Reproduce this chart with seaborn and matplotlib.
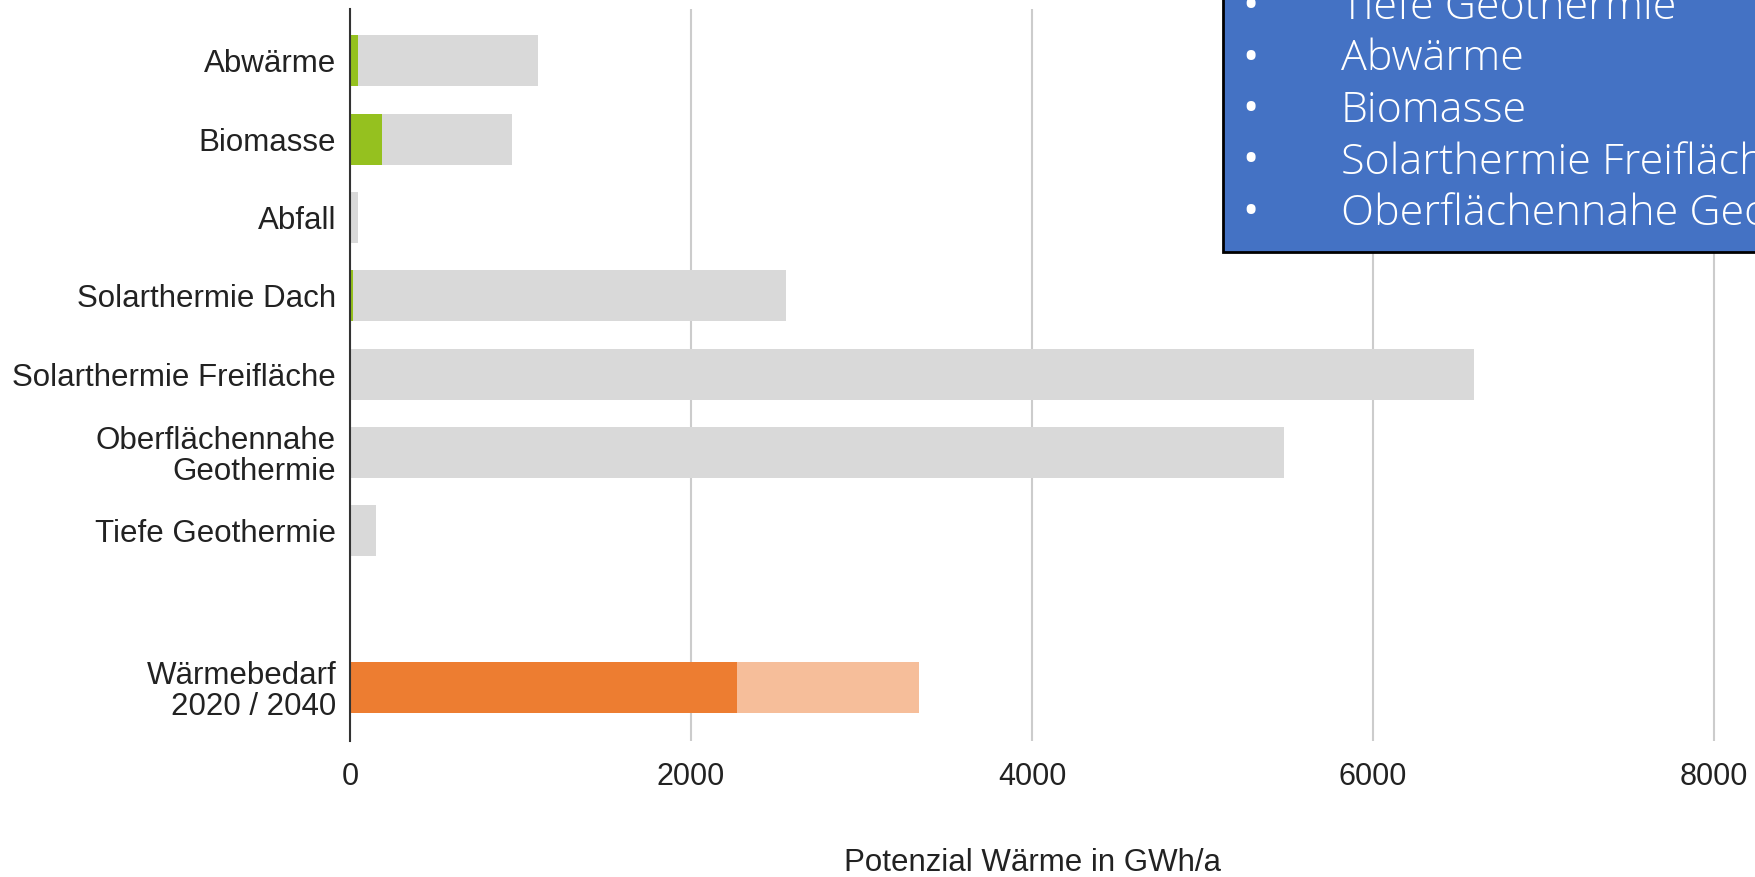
import numpy as np
import pandas as pd
import matplotlib
matplotlib.use('Agg')
import matplotlib.pyplot as plt
import seaborn as sns
from matplotlib.patches import Rectangle

# Daten (GWh/a)
kategorien = ['Abwärme', 'Biomasse', 'Abfall', 'Solarthermie Dach',
              'Solarthermie Freifläche', 'Oberflächennahe\nGeothermie',
              'Tiefe Geothermie']
potenzial = [1100, 950, 45, 2560, 6590, 5480, 155]
genutzt = [45, 190, 0, 20, 0, 0, 0]

bedarf_label = 'Wärmebedarf\n2020 / 2040'
bedarf_2020 = 3340
bedarf_2040 = 2270

x_ticks = [0, 2000, 4000, 6000, 8000]
box_punkte = ['Tiefe Geothermie', 'Abwärme', 'Biomasse',
              'Solarthermie Freifläche', 'Oberflächennahe Geothermie']

# Reihenfolge mit Leerzeile vor dem Wärmebedarf
reihenfolge = kategorien + [' ', bedarf_label]

df_hinten = pd.DataFrame({'kategorie': kategorien + [bedarf_label],
                          'wert': potenzial + [bedarf_2020]})
df_vorn = pd.DataFrame({'kategorie': kategorien + [bedarf_label],
                        'wert': genutzt + [bedarf_2040]})

grau = '#d9d9d9'
gruen = '#95c11f'
pal_hinten = {k: grau for k in kategorien}
pal_hinten[bedarf_label] = '#f6be9a'
pal_vorn = {k: gruen for k in kategorien}
pal_vorn[bedarf_label] = '#ed7d31'

sns.set_style('white')
plt.rcParams['font.family'] = ['Liberation Sans', 'DejaVu Sans']

fig = plt.figure(figsize=(17.55, 8.77), dpi=100)
ax = fig.add_axes([350 / 1755, 1 - 741 / 877, 1 - 350 / 1755, (741 - 9) / 877])

sns.barplot(data=df_hinten, x='wert', y='kategorie', order=reihenfolge,
            hue='kategorie', palette=pal_hinten, width=0.65, saturation=1,
            linewidth=0, legend=False, orient='h', ax=ax)
sns.barplot(data=df_vorn, x='wert', y='kategorie', order=reihenfolge,
            hue='kategorie', palette=pal_vorn, width=0.65, saturation=1,
            linewidth=0, legend=False, orient='h', ax=ax)

ax.set_xlim(0, 1405 / 0.1705)
ax.set_ylim(8.68, -0.66)
ax.set_xticks(x_ticks)
ax.set_xticklabels([str(t) for t in x_ticks])
ax.grid(axis='x', color='#cccccc', linewidth=1.5)
ax.set_axisbelow(True)
for s in ['top', 'right', 'bottom']:
    ax.spines[s].set_visible(False)
ax.spines['left'].set_color('#333333')
ax.spines['left'].set_linewidth(1.5)
ax.tick_params(axis='y', length=0, pad=10, labelsize=22.5, labelcolor='#222222')
ax.tick_params(axis='x', length=0, pad=15, labelsize=22, labelcolor='#222222')
for lab in ax.get_yticklabels():
    lab.set_linespacing(1.03)
ax.set_ylabel('')
ax.set_xlabel('Potenzial Wärme in GWh/a', fontsize=22.5, color='#222222')
ax.xaxis.set_label_coords(4000 / (1405 / 0.1705), -0.146)

# blauer Textkasten (angeschnitten)
fig.add_artist(Rectangle((1223 / 1755, 1 - 252 / 877), 0.4, 0.4,
                         transform=fig.transFigure, facecolor='#4472c4',
                         edgecolor='black', linewidth=2, zorder=5))
grundlinien = [19, 70.5, 122, 173.5, 225]
for txt, yb in zip(box_punkte, grundlinien):
    fig.text(1251 / 1755, 1 - yb / 877, '•', color='white', fontsize=31,
             family=['Open Sans', 'DejaVu Sans'], ha='center', va='baseline', zorder=6)
    fig.text(1341 / 1755, 1 - yb / 877, txt, color='white', fontsize=31,
             family=['Open Sans', 'DejaVu Sans'], fontweight='light',
             ha='left', va='baseline', zorder=6)

fig.savefig('out.png', dpi=100)
